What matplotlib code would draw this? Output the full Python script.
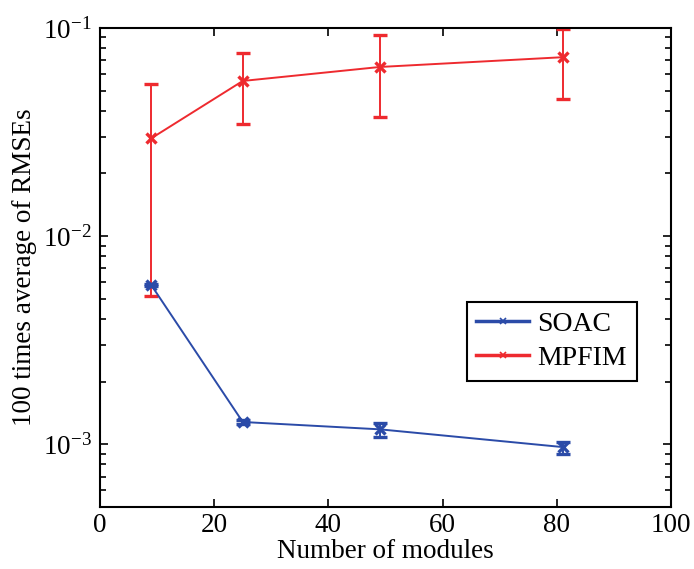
import math
import matplotlib
matplotlib.use('Agg')
import matplotlib.pyplot as plt
from matplotlib.ticker import FixedLocator, FuncFormatter, LogLocator, NullFormatter

plt.rcParams['font.family'] = ['Liberation Serif', 'DejaVu Serif']
plt.rcParams['mathtext.fontset'] = 'custom'
plt.rcParams['mathtext.rm'] = 'Liberation Serif'
plt.rcParams['mathtext.it'] = 'Liberation Serif:italic'

# number of modules
modules = [9, 25, 49, 81]

# SOAC mean and error bar ends
soac = [0.00581, 0.00128, 0.00118, 0.00097]
soac_lo = [0.00573, 0.001245, 0.00108, 0.000896]
soac_hi = [0.00589, 0.001315, 0.00127, 0.00103]

# MPFIM mean and error bar ends
mpfim = [0.0295, 0.0556, 0.0649, 0.0723]
mpfim_lo = [0.00516, 0.0347, 0.0375, 0.0456]
mpfim_hi = [0.0536, 0.076, 0.0925, 0.0989]

blue = '#2B4BA8'
red = '#EE2A2F'

fig = plt.figure(figsize=(6.94, 5.69), dpi=100)
ax = fig.add_axes([0.144, 0.109, 0.823, 0.842])

soac_err = [[m - l for m, l in zip(soac, soac_lo)], [h - m for m, h in zip(soac, soac_hi)]]
mpfim_err = [[m - l for m, l in zip(mpfim, mpfim_lo)], [h - m for m, h in zip(mpfim, mpfim_hi)]]

ax.errorbar(modules, mpfim, yerr=mpfim_err, color=red, lw=1.4, marker='x', ms=7, mew=2.4,
            capsize=5, capthick=1.4, elinewidth=1.4, zorder=2)
ax.errorbar(modules, soac, yerr=soac_err, color=blue, lw=1.4, marker='x', ms=7, mew=2.4,
            capsize=5, capthick=1.4, elinewidth=1.4, zorder=3)

# legend handles (thick line, small marker)
h1, = ax.plot([], [], color=blue, lw=2.5, marker='x', ms=5, mew=1.2)
h2, = ax.plot([], [], color=red, lw=2.5, marker='x', ms=5, mew=1.2)
leg = ax.legend([h1, h2], ['SOAC', 'MPFIM'], loc='upper right', bbox_to_anchor=(0.94, 0.428),
                fontsize=20, fancybox=False, framealpha=1, edgecolor='black',
                handlelength=1.9, handletextpad=0.3, borderpad=0.35, labelspacing=0.3,
                borderaxespad=0)
leg.get_frame().set_linewidth(1.5)

ax.set_yscale('log')
ax.set_xlim(0, 100)
ax.set_ylim(5e-4, 1e-1)
ax.set_xticks([0, 20, 40, 60, 80, 100])
ax.yaxis.set_major_locator(FixedLocator([1e-3, 1e-2, 1e-1]))
ax.yaxis.set_major_formatter(FuncFormatter(lambda v, p: r'$10^{%d}$' % round(math.log10(v))))
ax.yaxis.set_minor_locator(LogLocator(base=10, subs=range(2, 10)))
ax.yaxis.set_minor_formatter(NullFormatter())

ax.tick_params(which='both', direction='in', top=True, right=True, labelsize=19.5, width=1.2)
ax.tick_params(which='major', length=6)
ax.tick_params(which='minor', length=4)
ax.tick_params(axis='x', pad=4)
ax.tick_params(axis='y', pad=6)
for s in ax.spines.values():
    s.set_linewidth(1.5)

ax.set_xlabel('Number of modules', fontsize=19.5, labelpad=1)
ax.set_ylabel('100 times average of RMSEs', fontsize=19.5, labelpad=4)

fig.savefig('out.png', dpi=100)
